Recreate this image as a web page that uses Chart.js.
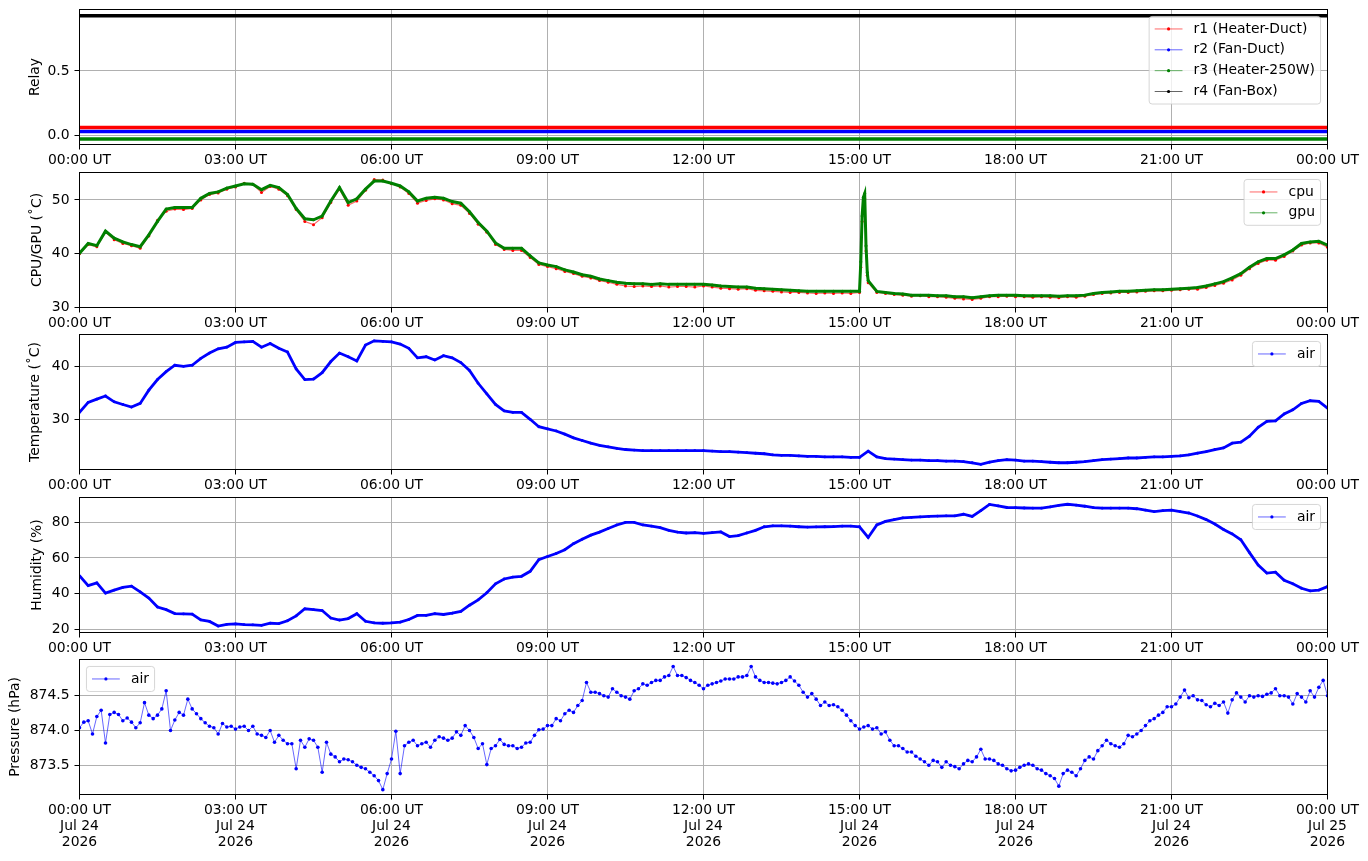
<!DOCTYPE html>
<html>
<head>
<meta charset="utf-8">
<script src="https://cdn.jsdelivr.net/npm/chart.js@4.4.1/dist/chart.umd.min.js"></script>
<style>
  html, body { margin: 0; padding: 0; background: #fff; }
  #fig { position: relative; width: 1368px; height: 861px; overflow: hidden; background: #fff; }
  #fig canvas { position: absolute; left: 0; }
</style>
</head>
<body>
<div id="fig">
  <canvas id="relay"></canvas>
  <canvas id="cpu"></canvas>
  <canvas id="temp"></canvas>
  <canvas id="hum"></canvas>
  <canvas id="pres"></canvas>
</div>
<script>
// sample spacing of the series, in minutes from 00:00 UT
const STEP_10 = 10;
const STEP_5 = 5;

// relays: on/off state (all constant over the day)
const RELAY_HOURS = [0, 3, 6, 9, 12, 15, 18, 21, 24];
const R1_STATE = [0, 0, 0, 0, 0, 0, 0, 0, 0];
const R2_STATE = [0, 0, 0, 0, 0, 0, 0, 0, 0];
const R3_STATE = [0, 0, 0, 0, 0, 0, 0, 0, 0];
const R4_STATE = [1, 1, 1, 1, 1, 1, 1, 1, 1];
const RELAY_OFFSET = [0.06, 0.03, -0.03, -0.07]; // keeps the lines apart
const RELAY_NAMES = ["r1 (Heater-Duct)", "r2 (Fan-Duct)", "r3 (Heater-250W)", "r4 (Fan-Box)"];

// cpu / gpu temperature, every 10 min
const CPU = [
  40.0, 41.7, 41.3, 44.0, 42.6, 41.9,
  41.5, 41.0, 43.3, 46.2, 47.9, 48.3,
  48.2, 48.4, 50.0, 51.0, 51.3, 52.0,
  52.4, 53.1, 52.9, 51.4, 52.5, 52.0,
  50.8, 48.2, 46.0, 45.4, 46.7, 49.5,
  52.0, 49.0, 49.8, 51.8, 53.8, 53.7,
  53.0, 52.4, 51.2, 49.4, 49.9, 50.2,
  50.0, 49.3, 49.0, 47.5, 45.5, 44.0,
  41.7, 40.8, 40.6, 40.6, 39.3, 38.0,
  37.6, 37.2, 36.7, 36.3, 35.8, 35.5,
  35.0, 34.7, 34.3, 34.0, 33.9, 34.0,
  33.9, 34.0, 33.8, 33.9, 33.9, 33.8,
  34.0, 33.8, 33.6, 33.5, 33.4, 33.5,
  33.2, 33.1, 33.0, 32.9, 32.8, 32.8,
  32.7, 32.6, 32.7, 32.6, 32.7, 32.6,
  32.8, 34.6, 32.8, 32.6, 32.4, 32.3,
  32.1, 32.2, 32.0, 32.0, 31.9, 31.7,
  31.6, 31.5, 31.7, 32.0, 32.0, 32.1,
  32.0, 32.0, 31.9, 32.0, 31.9, 31.8,
  32.0, 31.9, 32.1, 32.4, 32.6, 32.7,
  32.8, 32.8, 32.9, 33.0, 33.1, 33.1,
  33.2, 33.3, 33.4, 33.4, 33.7, 34.1,
  34.5, 35.1, 36.0, 37.2, 38.2, 38.8,
  38.8, 39.5, 40.5, 41.6, 42.0, 42.0,
  41.2
];
const GPU = [
  40.1, 41.9, 41.5, 44.2, 42.9, 42.2,
  41.7, 41.3, 43.5, 46.0, 48.3, 48.6,
  48.6, 48.6, 50.3, 51.2, 51.5, 52.2,
  52.6, 53.0, 52.9, 51.9, 52.7, 52.3,
  51.0, 48.4, 46.5, 46.3, 47.0, 49.8,
  52.3, 49.5, 50.2, 52.0, 53.5, 53.5,
  53.1, 52.6, 51.5, 49.8, 50.3, 50.5,
  50.3, 49.7, 49.4, 47.8, 45.8, 44.2,
  42.0, 41.0, 41.0, 41.0, 39.6, 38.3,
  37.9, 37.6, 37.0, 36.6, 36.1, 35.8,
  35.3, 35.0, 34.7, 34.5, 34.4, 34.4,
  34.3, 34.4, 34.3, 34.3, 34.3, 34.3,
  34.3, 34.2, 34.0, 33.9, 33.8, 33.8,
  33.6, 33.5, 33.4, 33.3, 33.2, 33.1,
  33.0, 33.0, 33.0, 33.0, 33.0, 33.0,
  33.0, 35.0, 33.0, 32.8, 32.6, 32.5,
  32.3, 32.3, 32.3, 32.2, 32.2, 32.0,
  32.0, 31.8, 32.0, 32.2, 32.3, 32.3,
  32.3, 32.2, 32.2, 32.2, 32.2, 32.1,
  32.2, 32.2, 32.3, 32.6, 32.8, 32.9,
  33.0, 33.0, 33.1, 33.2, 33.3, 33.3,
  33.4, 33.5, 33.6, 33.7, 34.0, 34.4,
  34.8, 35.5, 36.3, 37.5, 38.5, 39.1,
  39.1, 39.8, 40.7, 41.9, 42.2, 42.3,
  41.6
];
// short spike just after 15:00 UT (minutes, values)
const SPIKE_MIN = [901.5, 903, 904.5, 906, 907.5, 909];
const SPIKE_CPU = [37.5, 46.0, 50.0, 50.2, 40.5, 36.0];
const SPIKE_GPU = [38.5, 47.0, 50.5, 51.2, 41.5, 36.5];

// air temperature, every 10 min
const AIR_TEMP = [
  31.3, 33.2, 33.8, 34.4, 33.3, 32.8,
  32.3, 33.0, 35.5, 37.5, 39.0, 40.2,
  40.0, 40.2, 41.5, 42.5, 43.3, 43.6,
  44.5, 44.6, 44.7, 43.6, 44.3, 43.4,
  42.7, 39.5, 37.5, 37.6, 38.8, 40.9,
  42.5, 41.8, 41.0, 44.0, 44.8, 44.7,
  44.6, 44.2, 43.4, 41.6, 41.8, 41.2,
  42.0, 41.6, 40.7, 39.2, 36.8, 34.8,
  32.8, 31.6, 31.3, 31.3, 30.0, 28.6,
  28.2, 27.8, 27.2, 26.5, 26.0, 25.5,
  25.1, 24.8, 24.5, 24.3, 24.2, 24.1,
  24.1, 24.1, 24.1, 24.1, 24.1, 24.1,
  24.1, 24.0, 23.9, 23.9, 23.8, 23.7,
  23.6, 23.5, 23.3, 23.2, 23.2, 23.1,
  23.0, 23.0, 22.9, 22.9, 22.9, 22.8,
  22.8, 24.0, 22.9, 22.6, 22.5, 22.4,
  22.3, 22.3, 22.2, 22.2, 22.1, 22.1,
  22.0, 21.8, 21.5, 21.9, 22.2, 22.4,
  22.3, 22.1, 22.1, 22.0, 21.9, 21.8,
  21.8, 21.9, 22.0, 22.2, 22.4, 22.5,
  22.6, 22.7, 22.7, 22.8, 22.9, 22.9,
  23.0, 23.1, 23.3, 23.6, 23.9, 24.3,
  24.6, 25.5, 25.7, 26.8, 28.5, 29.6,
  29.7, 31.0, 31.8, 33.0, 33.5, 33.4,
  32.1
];

// air humidity, every 10 min
const AIR_HUM = [
  50.0, 44.5, 46.0, 40.3, 42.0, 43.5,
  44.2, 41.0, 37.5, 32.5, 31.0, 28.8,
  28.6, 28.5, 25.3, 24.4, 21.8, 22.8,
  23.0, 22.6, 22.5, 22.2, 23.4, 23.2,
  24.8, 27.5, 31.5, 31.0, 30.5, 26.3,
  25.2, 26.0, 28.7, 24.5, 23.6, 23.4,
  23.6, 24.0, 25.5, 27.8, 27.8, 28.8,
  28.3, 29.0, 30.0, 33.5, 36.5, 40.5,
  45.5, 48.2, 49.3, 49.7, 52.5, 59.0,
  60.8, 62.5, 64.6, 68.0, 70.5, 72.8,
  74.5, 76.5, 78.5, 80.0, 80.0, 78.5,
  77.8, 77.0, 75.5, 74.5, 74.0, 74.2,
  73.8, 74.2, 74.6, 72.0, 72.5, 74.0,
  75.5, 77.5, 78.0, 78.0, 77.8, 77.5,
  77.3, 77.4, 77.5, 77.6, 77.8, 77.9,
  77.5, 71.5, 78.5, 80.5, 81.5, 82.5,
  82.8, 83.0, 83.3, 83.5, 83.6, 83.6,
  84.5, 83.3, 86.5, 90.0, 89.2, 88.3,
  88.2, 88.0, 87.9, 87.9, 88.6, 89.5,
  90.1, 89.6, 89.0, 88.2, 87.9, 87.9,
  87.9, 87.9, 87.6, 86.8, 86.0, 86.5,
  86.8, 86.0, 85.2, 83.5, 81.5, 79.0,
  76.0, 73.5, 70.2, 63.0, 56.0, 51.5,
  52.0, 47.5, 45.5, 43.0, 41.5, 42.0,
  43.9
];

// air pressure, every 5 min (one row per hour)
const AIR_PRES = [
  874.04, 874.12, 874.14, 873.95, 874.20, 874.29, 873.82, 874.23, 874.26, 874.23, 874.14, 874.18,
  874.12, 874.04, 874.11, 874.40, 874.22, 874.17, 874.22, 874.31, 874.57, 874.00, 874.15, 874.26,
  874.22, 874.45, 874.31, 874.24, 874.17, 874.11, 874.06, 874.04, 873.95, 874.10, 874.05, 874.06,
  874.02, 874.05, 874.06, 874.00, 874.06, 873.95, 873.93, 873.90, 874.00, 873.83, 873.93, 873.86,
  873.81, 873.81, 873.45, 873.86, 873.76, 873.88, 873.86, 873.76, 873.40, 873.83, 873.66, 873.62,
  873.55, 873.59, 873.58, 873.55, 873.50, 873.47, 873.45, 873.40, 873.35, 873.28, 873.15, 873.38,
  873.59, 873.99, 873.38, 873.78, 873.83, 873.86, 873.78, 873.81, 873.83, 873.76, 873.86, 873.91,
  873.89, 873.86, 873.89, 873.98, 873.93, 874.07, 874.00, 873.90, 873.74, 873.81, 873.51, 873.74,
  873.78, 873.87, 873.80, 873.78, 873.78, 873.74, 873.76, 873.82, 873.83, 873.93, 874.01, 874.02,
  874.07, 874.07, 874.17, 874.14, 874.24, 874.29, 874.26, 874.36, 874.43, 874.69, 874.55, 874.55,
  874.53, 874.50, 874.48, 874.60, 874.55, 874.50, 874.48, 874.45, 874.57, 874.60, 874.67, 874.65,
  874.69, 874.72, 874.72, 874.77, 874.79, 874.92, 874.79, 874.79, 874.76, 874.72, 874.69, 874.65,
  874.60, 874.65, 874.67, 874.69, 874.71, 874.74, 874.74, 874.74, 874.77, 874.77, 874.79, 874.92,
  874.77, 874.72, 874.69, 874.69, 874.68, 874.67, 874.69, 874.72, 874.77, 874.71, 874.65, 874.55,
  874.48, 874.53, 874.45, 874.36, 874.41, 874.36, 874.37, 874.34, 874.29, 874.22, 874.14, 874.07,
  874.02, 874.05, 874.07, 874.02, 874.04, 873.95, 873.98, 873.86, 873.78, 873.78, 873.74, 873.69,
  873.69, 873.63, 873.59, 873.55, 873.50, 873.57, 873.55, 873.47, 873.55, 873.50, 873.48, 873.45,
  873.52, 873.57, 873.55, 873.62, 873.73, 873.59, 873.59, 873.57, 873.52, 873.50, 873.45, 873.42,
  873.43, 873.47, 873.50, 873.52, 873.50, 873.45, 873.43, 873.38, 873.35, 873.31, 873.20, 873.38,
  873.43, 873.40, 873.35, 873.45, 873.57, 873.62, 873.59, 873.71, 873.78, 873.86, 873.81, 873.78,
  873.76, 873.81, 873.93, 873.91, 873.95, 874.00, 874.07, 874.14, 874.17, 874.22, 874.26, 874.34,
  874.34, 874.38, 874.48, 874.58, 874.47, 874.50, 874.44, 874.43, 874.37, 874.34, 874.39, 874.36,
  874.41, 874.25, 874.44, 874.54, 874.48, 874.41, 874.50, 874.48, 874.50, 874.49, 874.52, 874.54,
  874.60, 874.50, 874.50, 874.48, 874.38, 874.53, 874.48, 874.41, 874.57, 874.48, 874.62, 874.72,
  874.50
];

// tick values
const X_TICK_STEP = 3; // hours
const RELAY_TICKS = [0, 0.5];
const CPU_TICKS = [30, 40, 50];
const TEMP_TICKS = [30, 40];
const HUM_TICKS = [20, 40, 60, 80];
const PRES_TICKS = [873.5, 874.0, 874.5];
const DAY_LABEL = "Jul 24";
const NEXT_DAY_LABEL = "Jul 25";
const YEAR_LABEL = "2026";

// ---- layout of the figure ----
const FONT_SIZE = 13.9;
const PLOT_LEFT = 79.5;
const PLOT_RIGHT = 1327.5;
const PLOT_TOPS = [9.5, 172.5, 334.5, 497.5, 659.5];
const PLOT_H = 135;

Chart.defaults.font.family = '"DejaVu Sans", sans-serif';
Chart.defaults.font.size = FONT_SIZE;
Chart.defaults.color = "#000";

function series(values, stepMin) {
  return values.map((v, i) => ({ x: (i * stepMin) / 60, y: v }));
}

function withSpike(values, spikeVals) {
  const pts = series(values, STEP_10);
  SPIKE_MIN.forEach((m, i) => pts.push({ x: m / 60, y: spikeVals[i] }));
  return pts.sort((a, b) => a.x - b.x);
}

function utLabel(v) {
  const h = Math.round(v) % 24;
  return String(h).padStart(2, "0") + ":00 UT";
}

// black box round the plot area (matplotlib spines)
const frame = {
  id: "frame",
  afterDraw(chart) {
    const { ctx, chartArea: a } = chart;
    ctx.save();
    ctx.strokeStyle = "#000";
    ctx.lineWidth = 1;
    ctx.strokeRect(a.left, a.top, a.right - a.left, a.bottom - a.top);
    ctx.restore();
  },
};

// matplotlib-like legend drawn inside the plot area
const mplLegend = {
  id: "mplLegend",
  afterDraw(chart, args, opts) {
    if (!opts || !opts.items) return;
    const { ctx, chartArea: a } = chart;
    const fs = FONT_SIZE;
    const pad = 0.4 * fs, handleLen = 2 * fs, textPad = 0.8 * fs;
    const rowH = fs, gap = 0.5 * fs, axPad = 0.5 * fs;
    const n = opts.items.length;

    ctx.save();
    ctx.font = fs + 'px "DejaVu Sans"';
    const textW = Math.max(...opts.items.map((it) => ctx.measureText(it.label).width));
    const w = pad + handleLen + textPad + textW + pad;
    const h = 2 * pad + n * rowH + (n - 1) * gap;
    const x0 = opts.loc === "left" ? a.left + axPad : a.right - axPad - w;
    const y0 = a.top + axPad;

    ctx.beginPath();
    ctx.roundRect(x0, y0, w, h, 3);
    ctx.fillStyle = "rgba(255,255,255,0.8)";
    ctx.fill();
    ctx.strokeStyle = "rgba(204,204,204,0.8)";
    ctx.lineWidth = 1;
    ctx.stroke();

    opts.items.forEach((it, i) => {
      const cy = y0 + pad + rowH / 2 + i * (rowH + gap);
      const hx = x0 + pad;
      ctx.globalAlpha = 0.6;
      ctx.strokeStyle = it.color;
      ctx.lineWidth = 1;
      ctx.beginPath();
      ctx.moveTo(hx, cy);
      ctx.lineTo(hx + handleLen, cy);
      ctx.stroke();
      ctx.globalAlpha = 1;
      ctx.fillStyle = it.color;
      ctx.beginPath();
      ctx.arc(hx + handleLen / 2, cy, 1.6, 0, Math.PI * 2);
      ctx.fill();
      ctx.fillStyle = "#000";
      ctx.textBaseline = "middle";
      ctx.textAlign = "left";
      ctx.fillText(it.label, hx + handleLen + textPad, cy);
    });
    ctx.restore();
  },
};

function makeChart(id, idx, cfg) {
  const canvas = document.getElementById(id);
  const top = PLOT_TOPS[idx];
  const cTop = Math.floor(top) - 20;
  const padTop = top - cTop;
  const h = Math.ceil(padTop + PLOT_H + cfg.labelSpace);
  const xAxisH = h - padTop - PLOT_H;
  canvas.width = 1368;
  canvas.height = h;
  canvas.style.width = "1368px";
  canvas.style.height = h + "px";
  canvas.style.top = cTop + "px";

  const grid = { color: "#b0b0b0", lineWidth: 1, tickColor: "#000", tickLength: 5, tickWidth: 1 };
  return new Chart(canvas, {
    type: "line",
    data: { datasets: cfg.datasets },
    options: {
      responsive: false,
      animation: false,
      events: [],
      layout: { padding: { top: padTop, left: 0, right: 1368 - PLOT_RIGHT, bottom: 0 } },
      plugins: {
        legend: { display: false },
        tooltip: { enabled: false },
        mplLegend: cfg.legend,
      },
      scales: {
        x: {
          type: "linear",
          min: 0,
          max: 24,
          ticks: {
            stepSize: X_TICK_STEP,
            autoSkip: false,
            maxRotation: 0,
            padding: 3,
            font: { lineHeight: 1.15 },
            callback: cfg.xLabel || utLabel,
          },
          grid: grid,
          border: { color: "#000", width: 1 },
          afterFit: (s) => { s.height = xAxisH; },
        },
        y: {
          type: "linear",
          min: cfg.yMin,
          max: cfg.yMax,
          afterBuildTicks: (s) => { s.ticks = cfg.yTicks.map((v) => ({ value: v })); },
          ticks: { padding: 5, callback: cfg.yLabel },
          grid: grid,
          border: { color: "#000", width: 1 },
          title: {
            display: true,
            text: cfg.title,
            color: "#000",
            padding: { top: cfg.titlePad, bottom: 0 },
          },
          afterFit: (s) => { s.width = PLOT_LEFT; },
        },
      },
    },
    plugins: [frame, mplLegend],
  });
}

// ---- 1: relays ----
const RELAY_COLORS = ["#ff0000", "#0000ff", "#008000", "#000000"];
const relayStates = [R1_STATE, R2_STATE, R3_STATE, R4_STATE];
makeChart("relay", 0, {
  labelSpace: 30,
  yMin: -0.072,
  yMax: 0.978,
  yTicks: RELAY_TICKS,
  yLabel: (v) => v.toFixed(1),
  title: "Relay",
  titlePad: 26.7,
  datasets: relayStates.map((st, k) => ({
    label: RELAY_NAMES[k],
    data: RELAY_HOURS.map((hr, i) => ({ x: hr, y: st[i] + RELAY_OFFSET[k] })),
    borderColor: RELAY_COLORS[k],
    borderWidth: 3.5,
    pointRadius: 0,
  })),
  legend: { loc: "right", items: RELAY_NAMES.map((n, k) => ({ label: n, color: RELAY_COLORS[k] })) },
});

// ---- 2: cpu / gpu ----
makeChart("cpu", 1, {
  labelSpace: 30,
  yMin: 30,
  yMax: 55.1,
  yTicks: CPU_TICKS,
  yLabel: (v) => String(v),
  title: "CPU/GPU (\u02daC)",
  titlePad: 29.2,
  datasets: [
    {
      label: "cpu",
      order: 1,
      data: withSpike(CPU, SPIKE_CPU),
      borderColor: "rgba(255,0,0,0.6)",
      borderWidth: 1.2,
      pointRadius: 1.5,
      pointBackgroundColor: "#ff0000",
      pointBorderWidth: 0,
    },
    {
      label: "gpu",
      order: 0,
      data: withSpike(GPU, SPIKE_GPU),
      borderColor: "#008000",
      borderWidth: 3,
      pointRadius: 1.5,
      pointBackgroundColor: "#008000",
      pointBorderWidth: 0,
    },
  ],
  legend: { loc: "right", items: [{ label: "cpu", color: "#ff0000" }, { label: "gpu", color: "#008000" }] },
});

// ---- 3: air temperature ----
makeChart("temp", 2, {
  labelSpace: 30,
  yMin: 20.53,
  yMax: 46.0,
  yTicks: TEMP_TICKS,
  yLabel: (v) => String(v),
  title: "Temperature (\u02daC)",
  titlePad: 27.2,
  datasets: [{
    label: "air",
    data: series(AIR_TEMP, STEP_10),
    borderColor: "#0000ff",
    borderWidth: 2.8,
    pointRadius: 1.4,
    pointBackgroundColor: "#0000ff",
    pointBorderWidth: 0,
  }],
  legend: { loc: "right", items: [{ label: "air", color: "#0000ff" }] },
});

// ---- 4: air humidity ----
makeChart("hum", 3, {
  labelSpace: 30,
  yMin: 18.2,
  yMax: 93.9,
  yTicks: HUM_TICKS,
  yLabel: (v) => String(v),
  title: "Humidity (%)",
  titlePad: 29.2,
  datasets: [{
    label: "air",
    data: series(AIR_HUM, STEP_10),
    borderColor: "#0000ff",
    borderWidth: 2.8,
    pointRadius: 1.4,
    pointBackgroundColor: "#0000ff",
    pointBorderWidth: 0,
  }],
  legend: { loc: "right", items: [{ label: "air", color: "#0000ff" }] },
});

// ---- 5: air pressure ----
makeChart("pres", 4, {
  labelSpace: 64,
  yMin: 873.08,
  yMax: 875.02,
  yTicks: PRES_TICKS,
  yLabel: (v) => v.toFixed(1),
  title: "Pressure (hPa)",
  titlePad: 7.5,
  xLabel: (v) => [utLabel(v), v >= 24 ? NEXT_DAY_LABEL : DAY_LABEL, YEAR_LABEL],
  datasets: [{
    label: "air",
    data: series(AIR_PRES, STEP_5),
    borderColor: "rgba(0,0,255,0.6)",
    borderWidth: 1,
    pointRadius: 1.8,
    pointBackgroundColor: "#0000ff",
    pointBorderWidth: 0,
  }],
  legend: { loc: "left", items: [{ label: "air", color: "#0000ff" }] },
});
</script>
</body>
</html>
